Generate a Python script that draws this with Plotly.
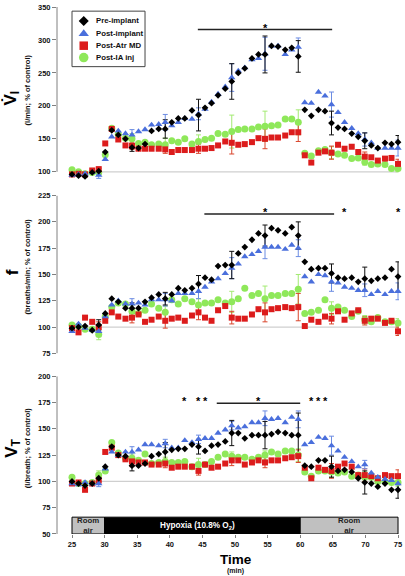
import plotly.graph_objects as go

# ---------------- data ----------------
TIME = [25.0, 26.0, 27.0, 28.1, 29.1, 30.1, 31.1, 32.1, 33.2, 34.2,
        35.2, 36.2, 37.2, 38.3, 39.3, 40.3, 41.3, 42.3, 43.4, 44.4,
        45.4, 46.4, 47.4, 48.5, 49.5, 50.5, 51.5, 52.6, 53.6, 54.6,
        55.6, 56.6, 57.7, 58.7, 59.7, 60.7, 61.7, 62.8, 63.8, 64.8,
        65.8, 66.8, 67.9, 68.9, 69.9, 70.9, 71.9, 73.0, 74.0, 75.0]
ERR_IDX = [4, 9, 14, 19, 24, 29, 34, 39, 44, 49]

SERIES = ["Pre-implant", "Post-implant", "Post-Atr MD", "Post-IA inj"]

# Panel 1: V_I (l/min; % of control)
VI_PRE = [96, 94, 93, 99, 101, 130, 163, 156, 150, 137, 136, 142, 162, 165, 165, 175, 181, 181, 193, 186,
          197, 204, 216, 226, 237, 250, 257, 272, 278, 278, 291, 290, 285, 288, 275, 194, 185, 194, 192, 174,
          167, 165, 158, 153, 147, 140, 136, 144, 142, 145]
VI_POST = [95, 96, 97, 99, 95, 119, 153, 162, 158, 156, 161, 164, 171, 172, 175, 170, 175, 181, 180, 188,
           195, 206, 218, 229, 243, 253, 258, 270, 272, 279, 291, 291, 278, 285, 289, 205, 204, 221, 215, 202,
           190, 175, 166, 158, 149, 144, 136, 136, 136, 136]
VI_ATR = [96, 97, 96, 102, 104, 143, 165, 149, 140, 139, 135, 135, 135, 135, 134, 130, 133, 133, 133, 135,
          135, 136, 140, 146, 144, 141, 142, 145, 151, 150, 152, 152, 155, 160, 160, 125, 114, 129, 131, 129,
          141, 135, 138, 130, 123, 122, 117, 120, 121, 112]
VI_IA = [103, 100, 97, 99, 99, 126, 166, 157, 151, 150, 143, 145, 141, 142, 141, 147, 145, 150, 142, 146,
         149, 151, 158, 157, 161, 164, 165, 165, 168, 169, 170, 171, 180, 180, 175, 128, 124, 132, 134, 129,
         127, 125, 120, 121, 115, 111, 112, 111, 105, 105]
VI_PRE_ERR = [4, 6, 14, 24, 27, 28, 24, 18, 12, 10]
VI_POST_ERR = [5, 8, 12, 9, 21, 25, 14, 19, 10, 12]
VI_ATR_ERR = [3, 5, 6, 7, 17, 15, 14, 10, 7, 7]
VI_IA_ERR = [3, 8, 10, 10, 25, 23, 19, 9, 5, 5]

# Panel 2: f (breaths/min; % of control)
F_PRE = [99, 100, 101, 97, 102, 113, 127, 124, 118, 118, 118, 124, 128, 131, 127, 131, 137, 135, 137, 141,
         147, 145, 158, 159, 159, 170, 176, 183, 189, 187, 194, 192, 189, 195, 187, 162, 155, 156, 156, 151,
         147, 146, 147, 143, 146, 144, 146, 147, 155, 148]
F_POST = [96, 103, 99, 97, 96, 110, 121, 125, 122, 122, 123, 121, 126, 126, 126, 125, 132, 132, 132, 134,
          138, 143, 146, 151, 156, 160, 167, 169, 172, 176, 176, 176, 174, 178, 175, 148, 143, 150, 149, 143,
          142, 138, 137, 135, 135, 131, 134, 131, 134, 134]
F_ATR = [99, 95, 109, 105, 100, 106, 114, 110, 108, 109, 112, 105, 107, 110, 106, 108, 109, 106, 111, 114,
         109, 106, 116, 120, 109, 108, 108, 112, 117, 114, 117, 118, 119, 118, 119, 101, 107, 105, 110, 108,
         115, 107, 113, 116, 106, 108, 108, 104, 106, 96]
F_IA = [102, 101, 98, 98, 93, 110, 119, 123, 122, 115, 113, 116, 122, 118, 114, 126, 122, 127, 124, 121,
        123, 123, 126, 123, 124, 127, 137, 130, 132, 127, 130, 130, 132, 132, 136, 113, 114, 116, 126, 118,
        119, 116, 110, 115, 107, 105, 109, 105, 105, 104]
F_PRE_ERR = [5, 5, 6, 8, 13, 10, 13, 9, 11, 14]
F_POST_ERR = [4, 5, 6, 7, 10, 11, 8, 9, 6, 8]
F_ATR_ERR = [5, 5, 7, 7, 6, 9, 13, 5, 4, 4]
F_IA_ERR = [5, 6, 6, 6, 10, 12, 14, 6, 4, 4]

# Panel 3: V_T (l/breath; % of control)
VT_PRE = [100, 98, 96, 98, 103, 114, 133, 125, 124, 115, 115, 117, 124, 126, 128, 130, 131, 131, 135, 133,
          129, 134, 135, 138, 146, 146, 141, 144, 144, 144, 145, 147, 146, 144, 144, 115, 114, 120, 120, 114,
          110, 111, 109, 103, 99, 98, 95, 98, 92, 92]
VT_POST = [98, 97, 99, 98, 98, 112, 128, 125, 128, 128, 130, 135, 135, 134, 136, 132, 132, 139, 137, 140,
           141, 141, 146, 149, 153, 151, 152, 156, 156, 160, 159, 160, 156, 161, 159, 135, 137, 142, 141, 134,
           129, 123, 119, 114, 116, 108, 104, 102, 101, 98]
VT_ATR = [98, 99, 92, 98, 101, 128, 132, 125, 121, 119, 118, 118, 116, 116, 117, 113, 114, 114, 114, 110,
          116, 113, 114, 117, 120, 120, 116, 118, 120, 118, 120, 120, 122, 123, 124, 113, 103, 113, 111, 110,
          114, 117, 114, 106, 106, 105, 103, 106, 105, 105]
VT_IA = [104, 98, 98, 99, 106, 110, 137, 127, 122, 122, 120, 126, 117, 118, 119, 118, 118, 119, 114, 116,
         116, 119, 123, 126, 124, 123, 123, 121, 123, 125, 128, 126, 129, 129, 125, 109, 105, 110, 110, 109,
         108, 109, 105, 106, 104, 104, 100, 100, 99, 99]
VT_PRE_ERR = [3, 5, 9, 7, 12, 13, 21, 10, 11, 8]
VT_POST_ERR = [3, 5, 4, 4, 4, 7, 8, 9, 4, 5]
VT_ATR_ERR = [3, 5, 4, 4, 5, 5, 6, 7, 6, 6]
VT_IA_ERR = [4, 4, 4, 6, 4, 4, 6, 5, 5, 4]

X_TICKS = [25, 30, 35, 40, 45, 50, 55, 60, 65, 70, 75]
Y1_TICKS = [100, 150, 200, 250, 300, 350]
Y2_TICKS = [75, 100, 125, 150, 175, 200, 225]
Y3_TICKS = [50, 75, 100, 125, 150, 175, 200]

# significance markers: (axis, x-start, x-end, level)
SIG_LINES = [("y", 44.3, 64.9, 315.8), ("y2", 45.3, 65.2, 207.4), ("y3", 47.2, 60.0, 174.2)]
SIG_STARS = [("y", 54.7, 323), ("y2", 54.6, 212.7), ("y2", 66.8, 212.7), ("y2", 75.0, 212.7),
             ("y3", 42.3, 180), ("y3", 44.4, 180), ("y3", 45.4, 180), ("y3", 53.6, 180),
             ("y3", 61.7, 180), ("y3", 62.8, 180), ("y3", 63.9, 180)]

# condition bar: (start, end, label)
CONDITIONS = [(25, 30, "Room<br>air"), (30, 60, "Hypoxia (10.8% O<sub>2</sub>)"), (60, 75, "Room<br>air")]

# ---------------- styling ----------------
FONT = "Liberation Sans, Arial, sans-serif"
STYLE = {
    "Pre-implant": dict(symbol="diamond", color="#000000", size=5.2, ecolor="#111111"),
    "Post-implant": dict(symbol="triangle-up", color="#4a6fdc", size=6.5, ecolor="#6c8ce2"),
    "Post-Atr MD": dict(symbol="square", color="#dc1c1c", size=6, ecolor="#d9452c"),
    "Post-IA inj": dict(symbol="circle", color="#8fe85a", size=7, ecolor="#a3ea72"),
}
DRAW_ORDER = ["Post-IA inj", "Post-Atr MD", "Post-implant", "Pre-implant"]

PANELS = [
    ("y", {"Pre-implant": (VI_PRE, VI_PRE_ERR), "Post-implant": (VI_POST, VI_POST_ERR),
           "Post-Atr MD": (VI_ATR, VI_ATR_ERR), "Post-IA inj": (VI_IA, VI_IA_ERR)}),
    ("y2", {"Pre-implant": (F_PRE, F_PRE_ERR), "Post-implant": (F_POST, F_POST_ERR),
            "Post-Atr MD": (F_ATR, F_ATR_ERR), "Post-IA inj": (F_IA, F_IA_ERR)}),
    ("y3", {"Pre-implant": (VT_PRE, VT_PRE_ERR), "Post-implant": (VT_POST, VT_POST_ERR),
            "Post-Atr MD": (VT_ATR, VT_ATR_ERR), "Post-IA inj": (VT_IA, VT_IA_ERR)}),
]

fig = go.Figure()

# error bars first (under the markers)
for yax, data in PANELS:
    for name in DRAW_ORDER:
        vals, errs = data[name]
        st = STYLE[name]
        fig.add_trace(go.Scatter(
            x=[TIME[i] for i in ERR_IDX], y=[vals[i] for i in ERR_IDX],
            mode="markers", xaxis="x", yaxis=yax, showlegend=False, hoverinfo="skip",
            marker=dict(size=1, opacity=0),
            error_y=dict(type="data", array=errs, color=st["ecolor"], thickness=1, width=2.5),
            cliponaxis=False))

for yax, data in PANELS:
    for name in DRAW_ORDER:
        vals, errs = data[name]
        st = STYLE[name]
        fig.add_trace(go.Scatter(
            x=TIME, y=vals, mode="markers", name=name, xaxis="x", yaxis=yax, showlegend=False,
            marker=dict(symbol=st["symbol"], color=st["color"], size=st["size"], line=dict(width=0)),
            cliponaxis=False))

# hand-drawn legend inside the top panel
LEG_MARK_X = 26.8
LEG_ROWS = [328.9, 309.3, 291.3, 273.2]
for name, ly in zip(SERIES, LEG_ROWS):
    st = STYLE[name]
    fig.add_trace(go.Scatter(
        x=[LEG_MARK_X], y=[ly], mode="markers", xaxis="x", yaxis="y", showlegend=False, hoverinfo="skip",
        marker=dict(symbol=st["symbol"], color=st["color"], size=st["size"] + 2.5, line=dict(width=0)),
        cliponaxis=False))

shapes = []
annotations = []

shapes.append(dict(type="rect", xref="x", yref="y", x0=25.0, x1=36.2, y0=259.5, y1=343.7,
                   line=dict(color="#444444", width=1), fillcolor="white", layer="below"))
for name, ly in zip(SERIES, LEG_ROWS):
    annotations.append(dict(xref="x", yref="y", x=28.4, y=ly, text=name, showarrow=False,
                            xanchor="left", yanchor="middle",
                            font=dict(family=FONT, size=7.8, color="#111111", weight="bold")))

# left axis lines (offset, Prism-like): each spans only its tick range
AXIS_SPANS = [("y", 100, 350), ("y2", 75, 225), ("y3", 50, 200)]
for yax, lo, hi in AXIS_SPANS:
    shapes.append(dict(type="line", xref="x domain", yref=yax, x0=0, x1=0, y0=lo, y1=hi,
                       line=dict(color="#808080", width=1)))

# reference lines at 100 %
for yax in ["y", "y2", "y3"]:
    shapes.append(dict(type="line", xref="x", yref=yax, x0=25, x1=75, y0=100, y1=100,
                       line=dict(color="#cfcfcf", width=1.2), layer="below"))

# significance bars and stars
for yax, x0, x1, lvl in SIG_LINES:
    shapes.append(dict(type="line", xref="x", yref=yax, x0=x0, x1=x1, y0=lvl, y1=lvl,
                       line=dict(color="#222222", width=1.5)))
for yax, xs, lvl in SIG_STARS:
    annotations.append(dict(xref="x", yref=yax, x=xs, y=lvl, text="<b>*</b>", showarrow=False,
                            yanchor="middle", yshift=-3.5, bgcolor="rgba(0,0,0,0)",
                            font=dict(family="Liberation Sans", size=11, color="#000000")))

# condition bar in bottom panel
for x0, x1, label in CONDITIONS:
    hyp = "Hypoxia" in label
    shapes.append(dict(type="rect", xref="x", yref="y3", x0=x0, x1=x1, y0=50, y1=66,
                       fillcolor="#000000" if hyp else "#c0c0c0",
                       line=dict(color="#000000", width=1)))
    annotations.append(dict(xref="x", yref="y3", x=(x0 + x1) / 2 if not hyp else 44.3, y=58,
                            text=label, showarrow=False, yanchor="middle",
                            font=dict(family=FONT, size=7.8 if not hyp else 8.2,
                                      color="#ffffff" if hyp else "#222222", weight="bold")))

# axis titles
TITLES = [
    ("V\u0307<sub>I</sub>", "(l/min; % of control)", 0.8267, 0.8418),
    ("f", "(breaths/min; % of control)", 0.497, 0.5075),
    ("V<sub>T</sub>", "(l/breath; % of control)", 0.162, 0.163),
]
for big, small, yb, ys in TITLES:
    annotations.append(dict(xref="paper", yref="paper", x=-0.131, y=yb, text=big, showarrow=False,
                            textangle=-90, xanchor="center", yanchor="middle",
                            font=dict(family=FONT, size=17, color="#000000", weight="bold")))
    annotations.append(dict(xref="paper", yref="paper", x=-0.0875, y=ys, text=small, showarrow=False,
                            textangle=-90, xanchor="center", yanchor="middle",
                            font=dict(family=FONT, size=7.5, color="#111111", weight="bold")))

annotations.append(dict(xref="paper", yref="paper", x=0.522, y=-0.049, text="Time", showarrow=False,
                        xanchor="center", yanchor="middle",
                        font=dict(family=FONT, size=13.5, color="#000000", weight="bold")))
annotations.append(dict(xref="paper", yref="paper", x=0.522, y=-0.071, text="(min)", showarrow=False,
                        xanchor="center", yanchor="middle",
                        font=dict(family=FONT, size=7, color="#111111", weight="bold")))

yaxis_common = dict(showgrid=False, zeroline=False, showline=False,
                    ticks="outside", ticklen=4, tickcolor="#808080", anchor="x",
                    tickfont=dict(family=FONT, size=7.5, color="#111111", weight="bold"))

fig.update_layout(
    width=405, height=576,
    margin=dict(l=57, r=5, t=3, b=42),
    paper_bgcolor="white", plot_bgcolor="white",
    showlegend=False,
    xaxis=dict(domain=[0, 1], range=[22.7, 75.15], anchor="y3", showgrid=False, zeroline=False,
               showline=False, ticks="outside", ticklen=3, tickcolor="#808080",
               tickvals=X_TICKS, tickfont=dict(family=FONT, size=7.5, color="#111111", weight="bold")),
    # range extends a little below 100 so that sub-baseline points are kept
    yaxis=dict(domain=[0.6723, 1.0], range=[88, 350], tickvals=Y1_TICKS, **yaxis_common),
    yaxis2=dict(domain=[0.3427, 0.6422], range=[75, 225], tickvals=Y2_TICKS, **yaxis_common),
    yaxis3=dict(domain=[0, 0.2994], range=[50, 200], tickvals=Y3_TICKS, **yaxis_common),
    shapes=shapes,
    annotations=annotations,
)

fig.write_html("out.html", config={"displayModeBar": False},
               post_script="document.body.style.margin='0';")
